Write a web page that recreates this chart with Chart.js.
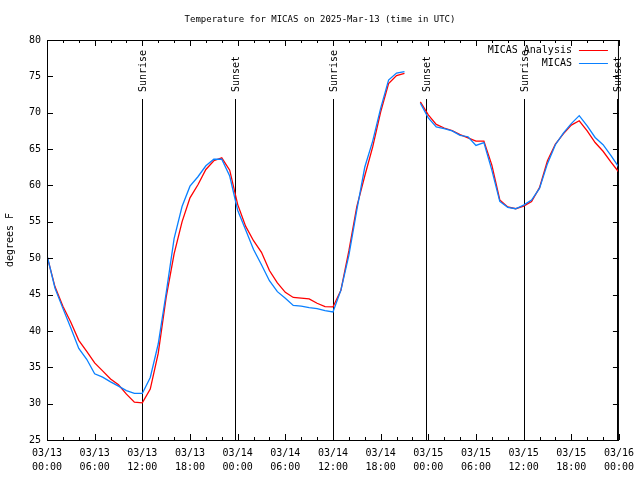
<!DOCTYPE html>
<html>
<head>
<meta charset="utf-8">
<script src="https://cdn.jsdelivr.net/npm/chart.js@4.4.1/dist/chart.umd.min.js"></script>
<style>
	html, body { margin: 0; padding: 0; background: #fff; }
</style>
</head>
<body>
<canvas id="temp" width="640" height="480"></canvas>
<script>
//Hours since 03/13 00:00 UTC
let hours = [0, 1, 2, 3, 4, 5, 6, 7, 8, 9, 10, 11, 12, 13, 14, 15, 16, 17, 18, 19, 20, 21, 22, 23,
	24, 25, 26, 27, 28, 29, 30, 31, 32, 33, 34, 35, 36, 37, 38, 39, 40, 41, 42, 43, 44, 45, 46, 47,
	48, 49, 50, 51, 52, 53, 54, 55, 56, 57, 58, 59, 60, 61, 62, 63, 64, 65, 66, 67, 68, 69, 70, 71, 72]

//MICAS Analysis (red)
let analysis = [50.3, 46.1, 43.4, 41.2, 38.7, 37.2, 35.6, 34.5, 33.4, 32.6, 31.3, 30.2, 30.1, 32.0, 36.9, 44.6, 50.6, 55.0, 58.3, 60.1, 62.2, 63.4, 63.8, 62.1,
	57.4, 54.4, 52.4, 50.8, 48.3, 46.6, 45.3, 44.6, 44.5, 44.4, 43.8, 43.35, 43.3, 45.6, 51.0, 57.1, 61.3, 65.3, 70.1, 74.0, 75.1, 75.4, null, 71.5,
	69.7, 68.4, 67.9, 67.55, 67.0, 66.55, 66.1, 66.1, 62.8, 58.0, 57.05, 56.8, 57.15, 57.8, 59.7, 63.4, 65.7, 67.1, 68.3, 68.9, 67.5, 65.9, 64.7, 63.2, 61.8]

//MICAS (blue)
let micas = [50.4, 45.9, 43.1, 40.4, 37.6, 36.1, 34.1, 33.65, 33.0, 32.4, 31.8, 31.4, 31.4, 33.6, 38.2, 45.2, 52.7, 57.1, 59.9, 61.2, 62.7, 63.6, 63.6, 61.3,
	56.6, 53.9, 51.2, 49.1, 46.9, 45.4, 44.5, 43.5, 43.4, 43.2, 43.05, 42.8, 42.6, 45.6, 50.4, 56.6, 62.5, 66.1, 70.6, 74.5, 75.45, 75.65, null, 71.3,
	69.3, 68.05, 67.8, 67.5, 66.9, 66.7, 65.5, 65.9, 62.1, 57.8, 57.0, 56.8, 57.3, 58.0, 59.6, 63.0, 65.6, 67.2, 68.5, 69.6, 68.2, 66.6, 65.6, 64.1, 62.5]

//Sunrise / sunset markers
let eventHours = [11.95, 23.62, 36.04, 47.70, 60.0, 71.79]
let eventNames = ['Sunrise', 'Sunset', 'Sunrise', 'Sunset', 'Sunrise', 'Sunset']

//Tick labels every 6 hours
let xTickLabels = [
	['03/13', '00:00'], ['03/13', '06:00'], ['03/13', '12:00'], ['03/13', '18:00'],
	['03/14', '00:00'], ['03/14', '06:00'], ['03/14', '12:00'], ['03/14', '18:00'],
	['03/15', '00:00'], ['03/15', '06:00'], ['03/15', '12:00'], ['03/15', '18:00'],
	['03/16', '00:00']
]

let mono = "'DejaVu Sans Mono', 'Liberation Mono', monospace"
let fontStr = '10px ' + mono

//Frame, inward ticks, sun lines and legend (gnuplot look)
let gnuplotBits = {
	id: 'gnuplotBits',
	beforeDatasetsDraw(chart) {
		let ctx = chart.ctx
		let a = chart.chartArea
		let xs = chart.scales.x
		ctx.save()
		ctx.strokeStyle = '#000'
		ctx.fillStyle = '#000'
		ctx.lineWidth = 1
		ctx.font = fontStr
		for (let i = 0; i < eventHours.length; i++) {
			let px = Math.round(xs.getPixelForValue(eventHours[i])) + 0.5
			ctx.beginPath()
			ctx.moveTo(px, a.top + 59)
			ctx.lineTo(px, a.bottom)
			ctx.stroke()
			ctx.save()
			ctx.translate(px + 1, a.top + 52)
			ctx.rotate(-Math.PI / 2)
			ctx.textAlign = 'left'
			ctx.textBaseline = 'middle'
			ctx.fillText(eventNames[i], 0, 0)
			ctx.restore()
		}
		ctx.restore()
	},
	afterDraw(chart) {
		let ctx = chart.ctx
		let a = chart.chartArea
		let xs = chart.scales.x
		let ys = chart.scales.y
		ctx.save()
		ctx.strokeStyle = '#000'
		ctx.lineWidth = 1
		ctx.beginPath()
		//minor x ticks every 2 hours, major every 6
		for (let h = xs.min; h <= xs.max; h += 2) {
			let px = Math.round(xs.getPixelForValue(h)) + 0.5
			let len = (h % 6 == 0) ? 6 : 3
			ctx.moveTo(px, a.bottom); ctx.lineTo(px, a.bottom - len)
			ctx.moveTo(px, a.top); ctx.lineTo(px, a.top + len)
		}
		for (let t of ys.ticks) {
			let py = Math.round(ys.getPixelForValue(t.value)) + 0.5
			ctx.moveTo(a.left, py); ctx.lineTo(a.left + 6, py)
			ctx.moveTo(a.right, py); ctx.lineTo(a.right - 6, py)
		}
		ctx.stroke()
		ctx.strokeRect(a.left + 0.5, a.top + 0.5, a.right - a.left - 1, a.bottom - a.top)

		//legend
		ctx.font = fontStr
		ctx.fillStyle = '#000'
		ctx.textAlign = 'right'
		ctx.textBaseline = 'middle'
		chart.data.datasets.forEach((ds, i) => {
			let ly = a.top + 10 + i * 13
			ctx.fillText(ds.label, a.right - 47, ly)
			ctx.strokeStyle = ds.borderColor
			ctx.beginPath()
			ctx.moveTo(a.right - 40, ly + 0.5)
			ctx.lineTo(a.right - 11, ly + 0.5)
			ctx.stroke()
		})
		ctx.restore()
	}
}

new Chart('temp', {
	type: 'line',
	data: {
		datasets: [{
			label: 'MICAS Analysis',
			data: hours.map((h, i) => ({ x: h, y: analysis[i] })),
			borderColor: '#ff0000',
			borderWidth: 1.3,
			pointRadius: 0,
			spanGaps: false,
			order: 1
		}, {
			label: 'MICAS',
			data: hours.map((h, i) => ({ x: h, y: micas[i] })),
			borderColor: '#0a80ff',
			borderWidth: 1.3,
			pointRadius: 0,
			spanGaps: false,
			order: 0
		}]
	},
	options: {
		responsive: false,
		animation: false,
		devicePixelRatio: 1,
		layout: { padding: 0 },
		plugins: {
			legend: { display: false },
			tooltip: { enabled: false },
			title: {
				display: true,
				text: 'Temperature for MICAS on 2025-Mar-13 (time in UTC)',
				color: '#000',
				font: { family: mono, size: 9, weight: 'normal', lineHeight: 1.2 },
				padding: { top: 14, bottom: 15.2 }
			}
		},
		scales: {
			x: {
				type: 'linear',
				min: 0,
				max: 72,
				grid: { display: false, drawTicks: false },
				border: { display: false },
				ticks: {
					stepSize: 6,
					autoSkip: false,
					maxRotation: 0,
					padding: 6,
					color: '#000',
					font: { family: mono, size: 10, lineHeight: '14px' },
					callback: (v, i) => xTickLabels[i]
				},
				afterFit(s) { s.height = 40 }
			},
			y: {
				min: 25,
				max: 80,
				grid: { display: false, drawTicks: false },
				border: { display: false },
				ticks: {
					stepSize: 5,
					padding: 6,
					color: '#000',
					font: { family: mono, size: 10 }
				},
				title: {
					display: true,
					text: 'degrees F',
					color: '#000',
					font: { family: mono, size: 10 },
					padding: { top: 4, bottom: 0 }
				},
				afterFit(s) { s.width = 47 }
			},
			//empty right margin so the title stays centred on the page
			yr: {
				position: 'right',
				display: true,
				min: 25,
				max: 80,
				grid: { display: false, drawTicks: false },
				border: { display: false },
				ticks: { display: false },
				afterFit(s) { s.width = 19 }
			}
		}
	},
	plugins: [gnuplotBits]
})
</script>
</body>
</html>
